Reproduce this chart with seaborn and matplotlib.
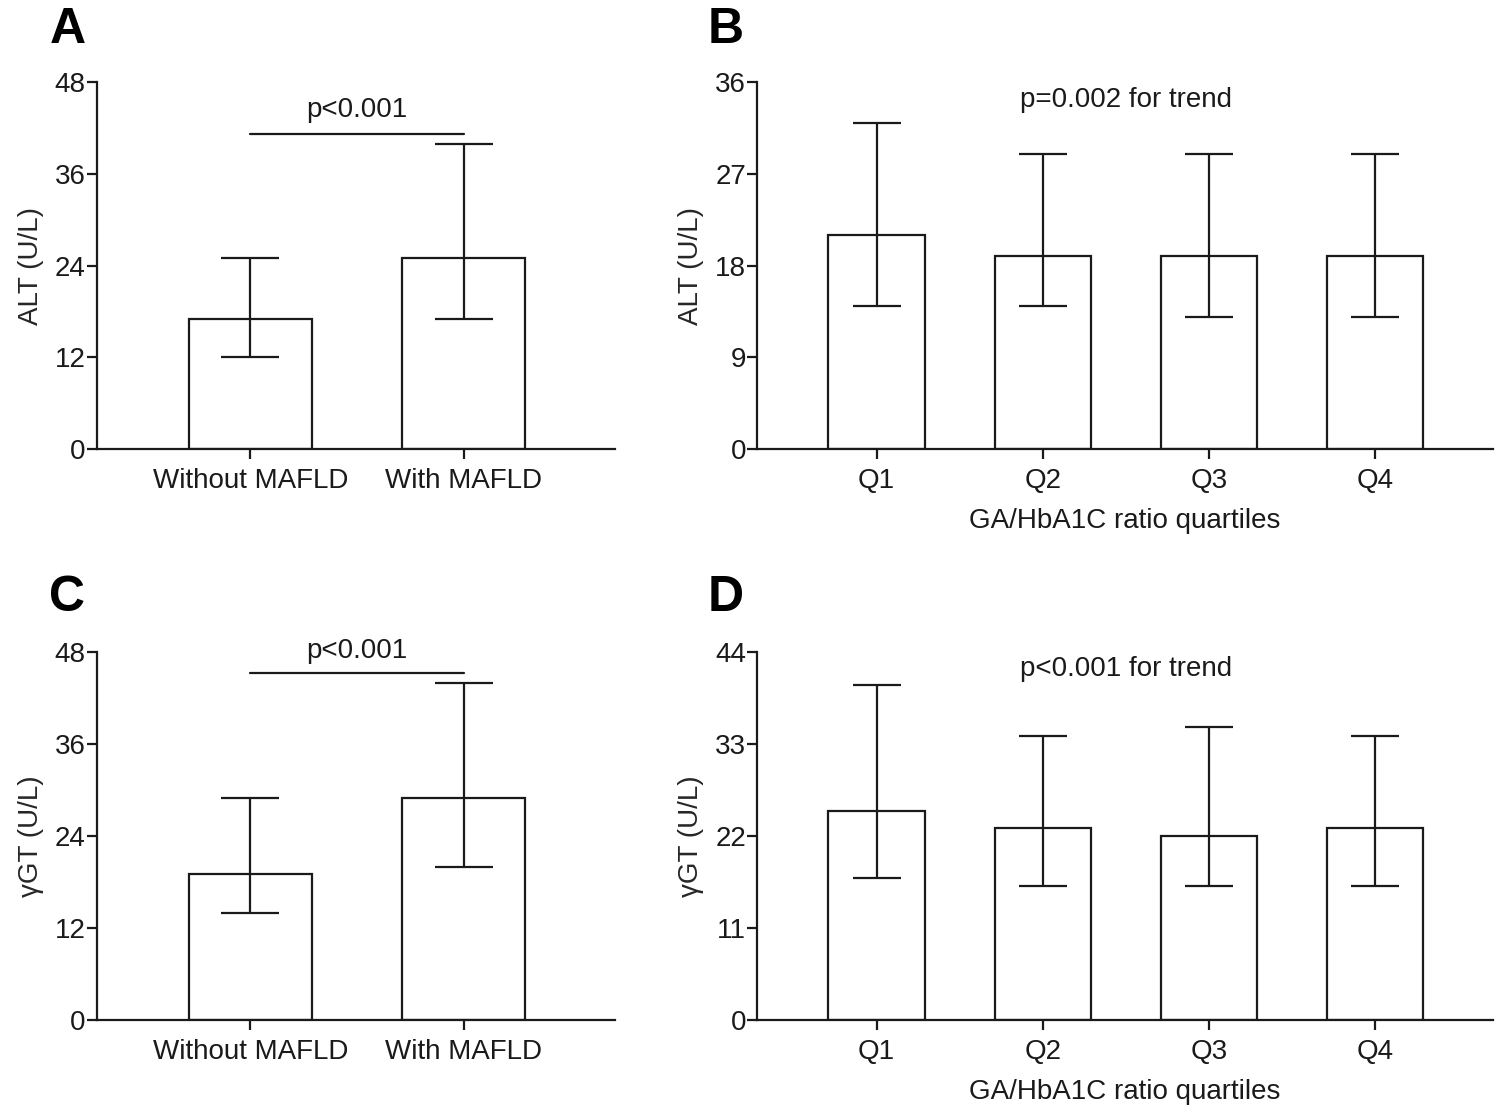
import numpy as np
import pandas as pd
import seaborn as sns
from matplotlib import pyplot as plt

# values: median bars with IQR whiskers
mafld_groups = ['Without MAFLD', 'With MAFLD']
alt_mafld = [17, 25]
alt_mafld_lo = [12, 17]
alt_mafld_hi = [25, 40]
ggt_mafld = [19, 29]
ggt_mafld_lo = [14, 20]
ggt_mafld_hi = [29, 44]

quartiles = ['Q1', 'Q2', 'Q3', 'Q4']
alt_q = [21, 19, 19, 19]
alt_q_lo = [14, 14, 13, 13]
alt_q_hi = [32, 29, 29, 29]
ggt_q = [25, 23, 22, 23]
ggt_q_lo = [17, 16, 16, 16]
ggt_q_hi = [40, 34, 35, 34]

sns.set_style('white')
plt.rcParams['font.family'] = ['Liberation Sans', 'DejaVu Sans']
plt.rcParams['font.size'] = 20

ink = '#1a1a1a'
fig = plt.figure(figsize=(14.99, 11.14), dpi=100)
axA = fig.add_axes([0.0647, 0.597, 0.3456, 0.329])
axB = fig.add_axes([0.505, 0.597, 0.491, 0.329])
axC = fig.add_axes([0.0647, 0.0844, 0.3456, 0.3303])
axD = fig.add_axes([0.505, 0.0844, 0.491, 0.3303])


def panel(ax, cats, vals, lo, hi, ymax, step, ylabel, capsize):
    df = pd.DataFrame({'group': cats, 'value': vals})
    sns.barplot(data=df, x='group', y='value', color='white', edgecolor=ink,
                linewidth=1.6, width=0.58, saturation=1, ax=ax)
    v = np.array(vals)
    yerr = [v - np.array(lo), np.array(hi) - v]
    ax.errorbar(np.arange(len(cats)), v, yerr=yerr, fmt='none', ecolor=ink,
                elinewidth=1.6, capsize=capsize, capthick=1.6)
    ax.set_xlim(-0.72, len(cats) - 1 + 0.71)
    ax.set_ylim(0, ymax)
    ax.set_yticks(np.arange(0, ymax + 1, step))
    ax.set_ylabel(ylabel, fontsize=20, labelpad=8)
    ax.set_xlabel('')
    for s in ['top', 'right']:
        ax.spines[s].set_visible(False)
    for s in ['left', 'bottom']:
        ax.spines[s].set_linewidth(1.6)
        ax.spines[s].set_color(ink)
    ax.tick_params(axis='both', direction='out', length=7, width=1.6,
                   bottom=True, left=True, color=ink, labelsize=20,
                   labelcolor=ink)
    ax.tick_params(axis='x', pad=7)
    ax.tick_params(axis='y', pad=1)


panel(axA, mafld_groups, alt_mafld, alt_mafld_lo, alt_mafld_hi, 48, 12, 'ALT (U/L)', 21)
panel(axB, quartiles, alt_q, alt_q_lo, alt_q_hi, 36, 9, 'ALT (U/L)', 17)
panel(axC, mafld_groups, ggt_mafld, ggt_mafld_lo, ggt_mafld_hi, 48, 12, 'γGT (U/L)', 21)
panel(axD, quartiles, ggt_q, ggt_q_lo, ggt_q_hi, 44, 11, 'γGT (U/L)', 17)

# significance bars
axA.plot([0, 1], [41.3, 41.3], color=ink, lw=1.6, clip_on=False)
axA.text(0.5, 42.7, 'p<0.001', ha='center', va='bottom', fontsize=20, color=ink)
axC.plot([0, 1], [45.2, 45.2], color=ink, lw=1.6, clip_on=False)
axC.text(0.5, 46.4, 'p<0.001', ha='center', va='bottom', fontsize=20, color=ink)
axB.text(1.5, 34.3, 'p=0.002 for trend', ha='center', va='center', fontsize=20, color=ink)
axD.text(1.5, 42.0, 'p<0.001 for trend', ha='center', va='center', fontsize=20, color=ink)

for ax in [axB, axD]:
    ax.set_xlabel('GA/HbA1C ratio quartiles', fontsize=20, color=ink, labelpad=10)

# panel letters
for lab, x, y in [('A', 0.033, 0.973), ('B', 0.472, 0.973), ('C', 0.033, 0.463), ('D', 0.472, 0.463)]:
    fig.text(x, y, lab, fontsize=36, fontweight='bold', ha='left', va='center', color='black')

fig.savefig('out.png', dpi=100)
